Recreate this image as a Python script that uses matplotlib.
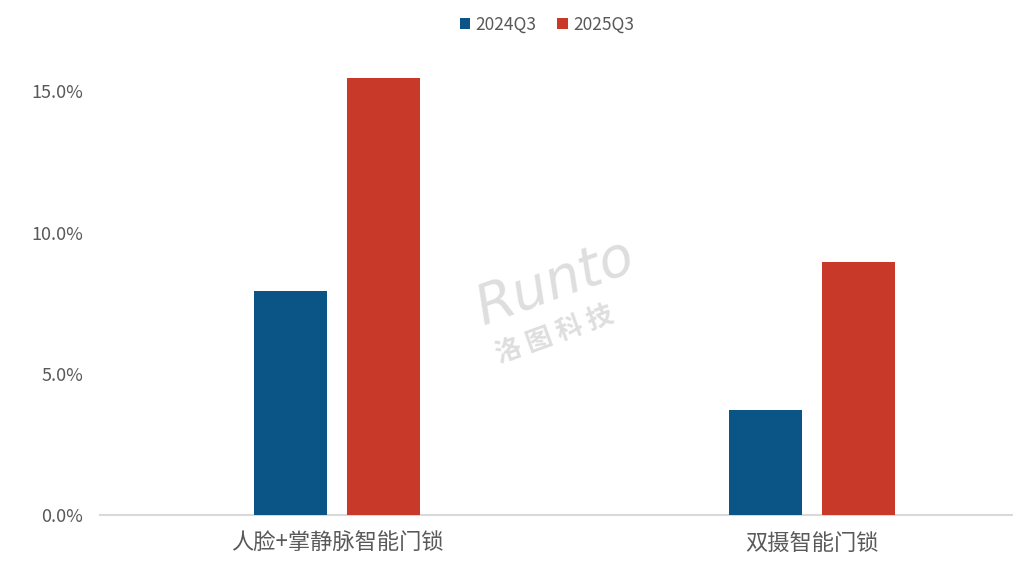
import matplotlib.pyplot as plt
import numpy as np

plt.rcParams['font.family'] = ['Noto Sans CJK SC', 'DejaVu Sans']

categories = ["人脸+掌静脉智能门锁", "双摄智能门锁"]
series_names = ["2024Q3", "2025Q3"]
q3_2024 = [7.92, 3.71]
q3_2025 = [15.48, 8.94]
ytick_values = [0, 5, 10, 15]
ytick_labels = ["0.0%", "5.0%", "10.0%", "15.0%"]

colors = ["#0A5585", "#C8392A"]
text_color = "#595959"

fig = plt.figure(figsize=(10.13, 5.70), dpi=100)
ax = fig.add_axes([100 / 1013, 55 / 570, 913 / 1013, 452 / 570])

x = np.arange(len(categories))
w = 0.154
off = 0.098
ax.bar(x - off, q3_2024, width=w, color=colors[0], label=series_names[0], zorder=3)
ax.bar(x + off, q3_2025, width=w, color=colors[1], label=series_names[1], zorder=3)

ax.set_xlim(-0.5, 1.423)
ax.set_ylim(0, 16)

ax.set_yticks(ytick_values)
ax.set_yticklabels(ytick_labels)
ax.set_xticks(x)
ax.set_xticklabels(categories, fontsize=16, color=text_color)
ax.tick_params(axis='y', length=0, labelsize=13, labelcolor=text_color, pad=12)
ax.tick_params(axis='x', length=0, pad=12)

for s in ["top", "right", "left"]:
    ax.spines[s].set_visible(False)
ax.spines["bottom"].set_color("#D9D9D9")
ax.spines["bottom"].set_linewidth(1.5)

# watermark
fig.text(555 / 1013, 1 - 282 / 570, "Runto", fontsize=40, color="#D0D0D0",
         alpha=0.7, rotation=20, ha="center", va="center", family="DejaVu Sans",
         style="italic", zorder=4)
fig.text(555 / 1013, 1 - 335 / 570, "洛 图 科 技", fontsize=19, color="#D0D0D0",
         alpha=0.7, rotation=20, ha="center", va="center", fontweight="bold", zorder=4)

fig.legend(loc="upper center", bbox_to_anchor=(0.54, 1.0), ncol=2, frameon=False,
           fontsize=12.5, handlelength=0.6, handleheight=0.6, handletextpad=0.3,
           columnspacing=1.2, labelcolor=text_color)

fig.savefig("out.png", dpi=100)
